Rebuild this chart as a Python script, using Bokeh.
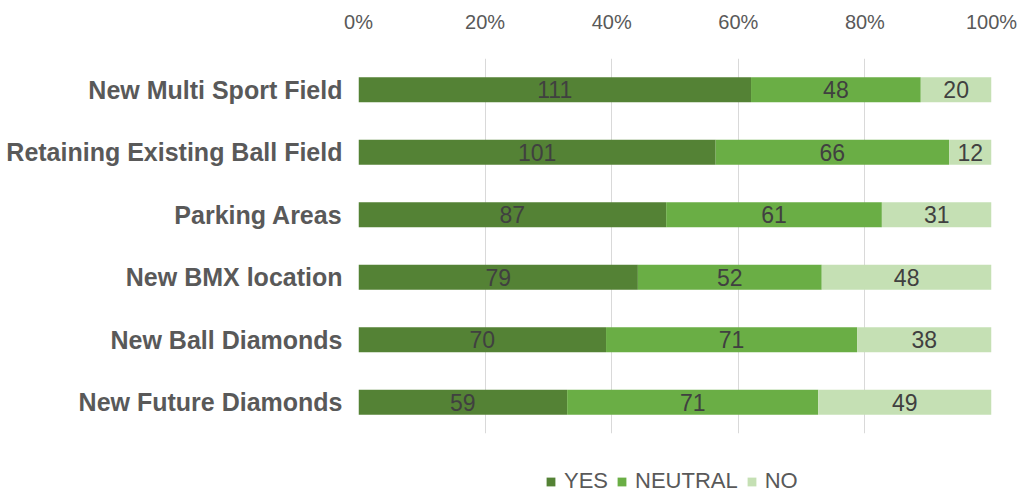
from bokeh.plotting import figure
from bokeh.layouts import column
from bokeh.models import ColumnDataSource, Legend, LegendItem, FixedTicker, NumeralTickFormatter, Range1d
from bokeh.core.properties import value
from bokeh.embed import file_html
from bokeh.resources import INLINE

categories = ["New Multi Sport Field", "Retaining Existing Ball Field", "Parking Areas",
              "New BMX location", "New Ball Diamonds", "New Future Diamonds"]
yes = [111, 101, 87, 79, 70, 59]
neutral = [48, 66, 61, 52, 71, 71]
no = [20, 12, 31, 48, 38, 49]
series = ["YES", "NEUTRAL", "NO"]
colors = ["#548235", "#6aae45", "#c5e0b4"]
ticks = [0, 0.2, 0.4, 0.6, 0.8, 1.0]

totals = [a + b + c for a, b, c in zip(yes, neutral, no)]
yp = [a / t for a, t in zip(yes, totals)]
npct = [b / t for b, t in zip(neutral, totals)]
nop = [c / t for c, t in zip(no, totals)]

src = ColumnDataSource(dict(cat=categories, YES=yp, NEUTRAL=npct, NO=nop))

p = figure(y_range=list(reversed(categories)), x_range=Range1d(0, 1),
           frame_width=633, frame_height=375, output_backend="svg", toolbar_location=None,
           x_axis_location="above", min_border_left=358, min_border_right=33,
           min_border_top=58, min_border_bottom=8)

p.hbar_stack(series, y="cat", height=0.4, color=colors, source=src, line_color=None)

lab_x, lab_y, lab_t = [], [], []
for i, c in enumerate(categories):
    s0 = 0
    for v, pc in zip([yes[i], neutral[i], no[i]], [yp[i], npct[i], nop[i]]):
        lab_x.append(s0 + pc / 2)
        lab_y.append(c)
        lab_t.append(str(v))
        s0 += pc
lsrc = ColumnDataSource(dict(x=lab_x, y=lab_y, t=lab_t))
p.text(x="x", y="y", text="t", source=lsrc, text_align="center", text_baseline="middle",
       text_font_size="23px", text_color="#404040", text_font=value("Liberation Sans"))

p.xaxis.ticker = FixedTicker(ticks=ticks)
p.xaxis.formatter = NumeralTickFormatter(format="0%")
p.xaxis.axis_line_color = None
p.xaxis.major_tick_line_color = None
p.xaxis.minor_tick_line_color = None
p.xaxis.major_label_text_font_size = "20px"
p.xaxis.major_label_text_color = "#595959"
p.xaxis.major_label_text_font = "Liberation Sans"
p.xaxis.major_label_standoff = 20

p.yaxis.axis_line_color = None
p.yaxis.major_tick_line_color = None
p.yaxis.minor_tick_line_color = None
p.yaxis.major_label_text_font_size = "25px"
p.yaxis.major_label_text_font_style = "bold"
p.yaxis.major_label_text_color = "#595959"
p.yaxis.major_label_text_font = "Liberation Sans"
p.yaxis.major_label_standoff = 10

p.ygrid.grid_line_color = None
p.xgrid.grid_line_color = "#d9d9d9"
p.xgrid.ticker = FixedTicker(ticks=ticks)
p.outline_line_color = None

# legend strip: its stacked bars lie outside its visible x range (and are hair-thin),
# so only the legend is visible
pl = figure(y_range=list(reversed(categories)), x_range=Range1d(2, 3),
            width=1025, height=54, output_backend="svg", toolbar_location=None,
            min_border_left=0, min_border_right=0, min_border_top=0, min_border_bottom=0)
lrs = pl.hbar_stack(series, y="cat", height=0.001, color=colors, source=src, line_color=None)
pl.axis.visible = False
pl.grid.visible = False
pl.outline_line_color = None

legend = Legend(items=[LegendItem(label=s, renderers=[r]) for s, r in zip(series, lrs)],
                orientation="horizontal", location=(187, 1))
legend.label_text_font_size = "22px"
legend.label_text_color = "#595959"
legend.label_text_font = "Liberation Sans"
legend.label_height = 16
legend.glyph_width = 11
legend.glyph_height = 11
legend.label_standoff = 8
legend.spacing = 8
legend.padding = 0
legend.margin = 0
legend.border_line_color = None
legend.background_fill_alpha = 0
pl.add_layout(legend, "center")

layout = column(p, pl, spacing=0)
open("out.html", "w").write(file_html(layout, INLINE))
